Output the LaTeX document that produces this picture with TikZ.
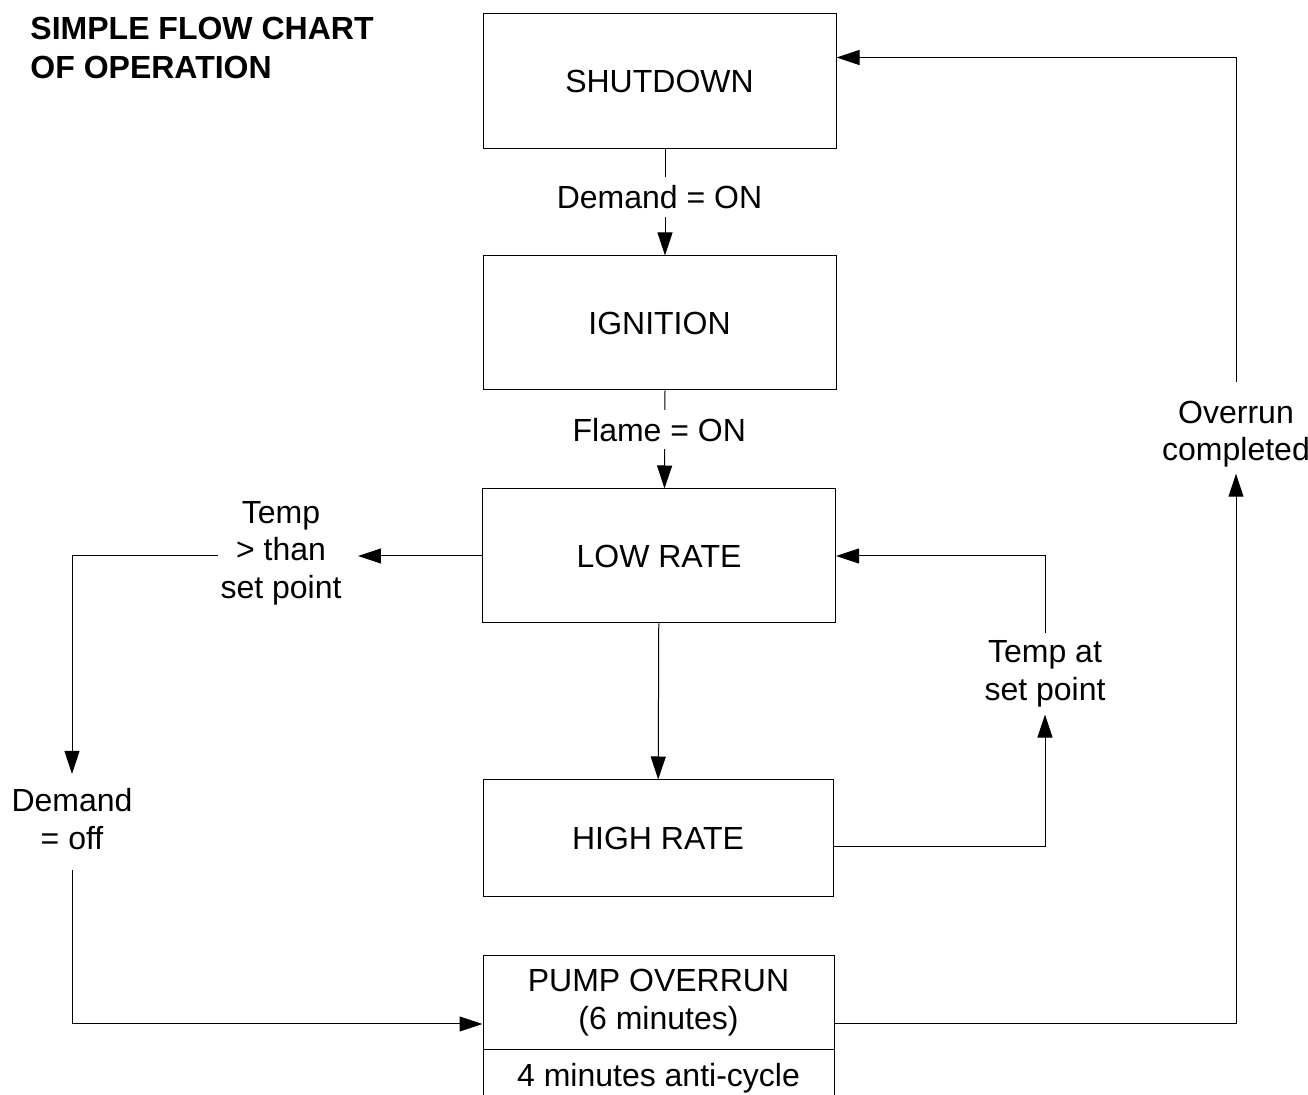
\documentclass[tikz,border=0pt]{standalone}
\usepackage{fontspec}
\setmainfont{Liberation Sans}
\usetikzlibrary{arrows.meta, shapes.multipart}

\begin{document}
\begin{tikzpicture}[x=0.5pt, y=-0.5pt, >={Triangle[length=11.5pt, width=7.5pt]}, line width=0.5pt,
  every node/.style={font=\fontsize{16}{18.75}\selectfont},
  box/.style={draw, minimum width=176.5pt, align=center},
  lbl/.style={align=center, inner sep=1pt}]
  \useasboundingbox (0,0) rectangle (1308,1095);
  \node[anchor=north west, inner sep=0pt, align=left, font=\fontsize{16}{19.5}\selectfont\bfseries] (title) at (30,17) {SIMPLE FLOW CHART\\OF OPERATION};
  \node[box, minimum height=67.5pt] (shutdown) at (659.5,81.5) {SHUTDOWN};
  \node[box, minimum height=67pt] (ignition) at (659.5,323) {IGNITION};
  \node[box, minimum height=67pt] (lowrate) at (659,556) {LOW RATE};
  \node[box, minimum height=58.5pt, minimum width=175pt] (highrate) at (658,838.5) {HIGH RATE};
  \node[box, rectangle split, rectangle split parts=2, inner ysep=6.5pt, minimum width=175.5pt] (pump) at (658.5,1031) {PUMP OVERRUN\\(6 minutes)\nodepart{two}4 minutes anti-cycle};
  \node[lbl] (tempHigh) at (281,553) {Temp\\> than\\set point};
  \node[lbl] (demandOff) at (72,819) {Demand\\= off};
  \node[lbl] (tempSet) at (1045,674) {Temp at\\set point};
  \node[lbl] (overrunDone) at (1236,434) {Overrun\\completed};
  \draw[->] ([xshift=2.75pt]shutdown.south) -- ([xshift=2.75pt]ignition.north) node[lbl, pos=0.45, fill=white, inner ysep=4pt, xshift=-2.75pt] (demandOn) {Demand = ON};
  \draw[->] ([xshift=2.75pt]ignition.south) -- ([xshift=2.75pt]lowrate.north) node[lbl, pos=0.4, fill=white, inner ysep=4pt, xshift=-2.75pt] (flameOn) {Flame = ON};
  \draw[->] (lowrate) -- (highrate);
  \draw[->, shorten >=7pt] (lowrate.west) -- (lowrate.west -| tempHigh.east);
  \draw[->, shorten >=6pt] (lowrate.west -| tempHigh.west) -| (demandOff.north);
  \draw[->, shorten <=9pt] (demandOff.south) |- ([yshift=3.5pt]pump.west);
  \draw[->, shorten >=2.5pt] ([yshift=-4pt]highrate.east) -| (tempSet.south);
  \draw[->, shorten <=2.5pt] (tempSet.north) |- (lowrate.east);
  \draw[->, shorten >=2pt] ([yshift=3.5pt]pump.east) -| (overrunDone.south);
  \draw[->, shorten <=8pt] (overrunDone.north) |- ([yshift=12pt]shutdown.east);
\end{tikzpicture}
\end{document}
